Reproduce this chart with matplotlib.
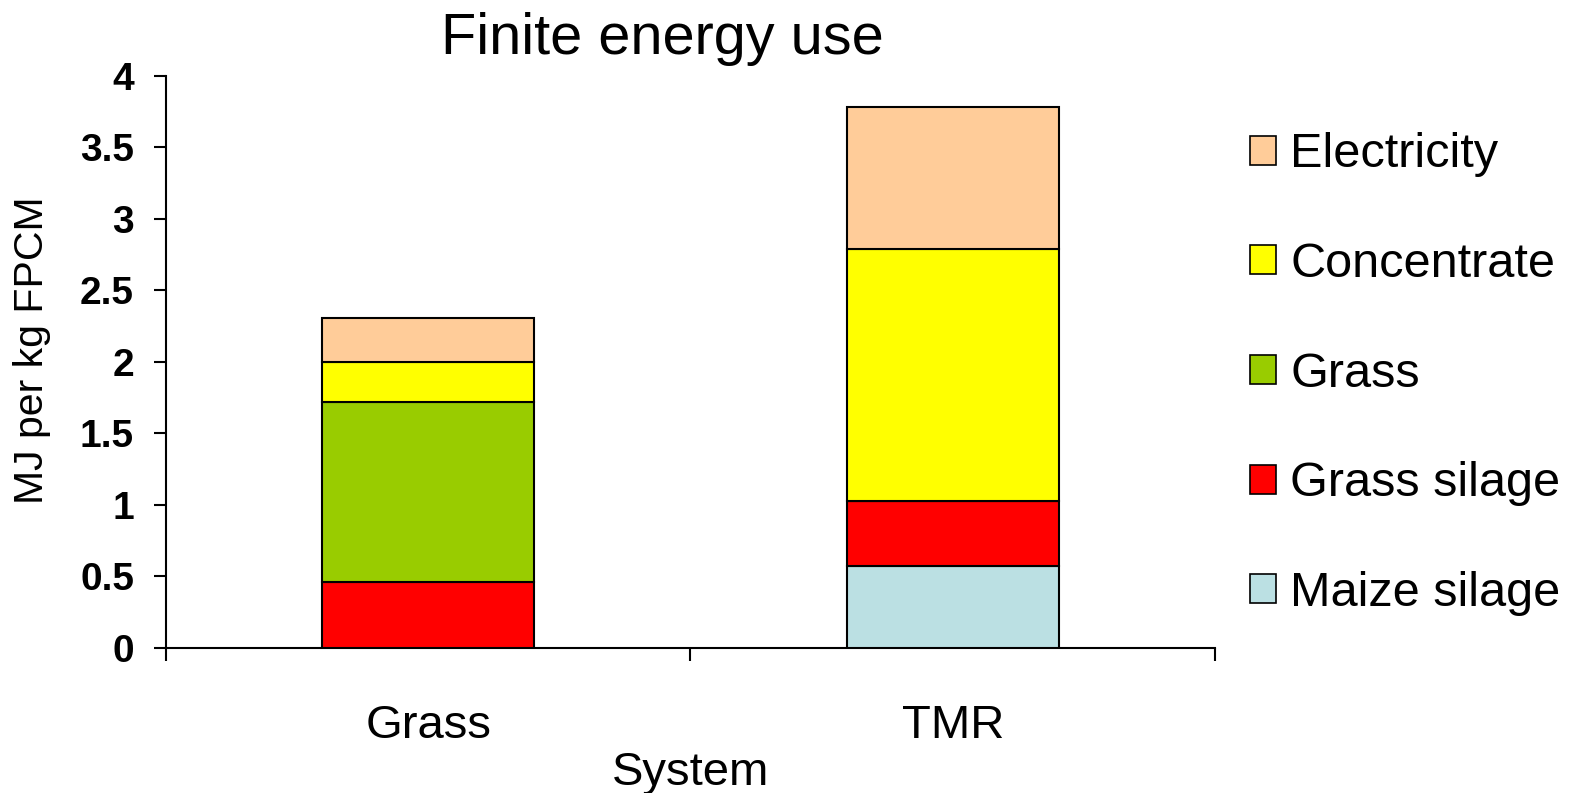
import numpy as np
import matplotlib
matplotlib.use("Agg")
import matplotlib.pyplot as plt
from matplotlib.patches import Patch

plt.rcParams['font.family'] = ['Liberation Sans', 'DejaVu Sans']

# === DATA ===
systems = ["Grass", "TMR"]
components = ["Maize silage", "Grass silage", "Grass", "Concentrate", "Electricity"]
maize_silage = [0.0, 0.57]
grass_silage = [0.46, 0.46]
grass = [1.26, 0.0]
concentrate = [0.28, 1.76]
electricity = [0.31, 0.99]
colours = ["#BBE0E3", "#FF0000", "#99CC00", "#FFFF00", "#FFCC99"]

# === PLOT ===
fig = plt.figure(figsize=(15.7, 7.93), dpi=100)
ax = fig.add_axes([0.1057, 0.1829, 0.6682, 0.7213])

x = np.array([0.5, 1.5])
bottom = np.zeros(len(systems))
for vals, col in zip([maize_silage, grass_silage, grass, concentrate, electricity], colours):
    vals = np.array(vals)
    ax.bar(x, vals, width=0.404, bottom=bottom, color=col,
           edgecolor="black", linewidth=1.5, zorder=3)
    bottom += vals

ax.set_xlim(0, 2)
ax.set_ylim(0, 4)
ax.set_yticks(np.arange(0, 4.01, 0.5))
ax.set_yticklabels(["0", "0.5", "1", "1.5", "2", "2.5", "3", "3.5", "4"],
                   fontsize=28, fontweight="bold")
ax.set_xticks([0, 1, 2], minor=False)
ax.set_xticklabels([])
ax.set_xticks(x, minor=True)
ax.set_xticklabels(systems, minor=True, fontsize=34)
ax.tick_params(axis="x", which="major", length=9, width=1.5, direction="out")
ax.tick_params(axis="x", which="minor", length=0, pad=40)
ax.tick_params(axis="y", length=9, width=1.5, direction="out", pad=14)

for side in ["top", "right"]:
    ax.spines[side].set_visible(False)
for side in ["left", "bottom"]:
    ax.spines[side].set_linewidth(1.5)

# axis labels and title
fig.text(0.0204, 0.5586, "MJ per kg FPCM", fontsize=29.5, rotation=90,
         ha="center", va="center")
fig.text(0.4398, 0.0101, "System", fontsize=34, ha="center", va="baseline")
fig.text(0.4217, 0.9319, "Finite energy use", fontsize=41.5, ha="center", va="baseline")

handles = [Patch(facecolor=c, edgecolor="black", linewidth=1.2) for c in colours]
leg = fig.legend(handles[::-1], components[::-1], loc="upper left",
                 bbox_to_anchor=(0.7838, 0.8575), frameon=False, fontsize=35,
                 handlelength=0.535, handleheight=0.535, handletextpad=0.29,
                 labelspacing=1.33, borderaxespad=0)

fig.savefig("out.png", dpi=100)
